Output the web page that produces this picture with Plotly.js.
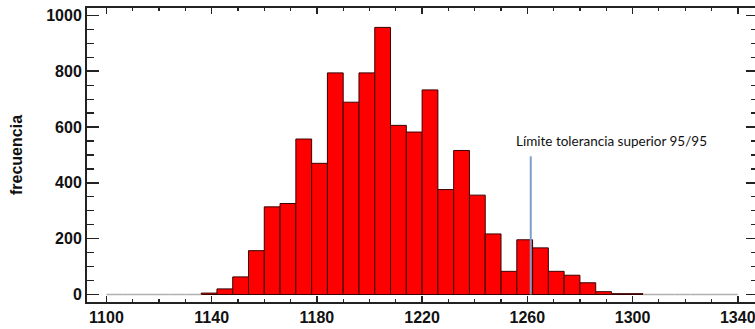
<!DOCTYPE html>
<html>
<head>
<meta charset="utf-8">
<script src="https://cdn.plot.ly/plotly-3.0.1.min.js"></script>
<style>html,body{margin:0;padding:0;background:#fff;overflow:hidden;}#chart{width:758px;height:329px;}</style>
</head>
<body>
<div id="chart"></div>
<script>
// Histogram bins (left edges) and frequencies
var binStarts = [1100,1106,1112,1118,1124,1130,1136,1142,1148,1154,1160,1166,1172,1178,1184,1190,1196,1202,1208,1214,1220,1226,1232,1238,1244,1250,1256,1262,1268,1274,1280,1286,1292,1298,1304,1310,1316,1322,1328,1334];
var counts    = [0,0,0,0,0,0,5,20,63,157,314,326,557,470,794,689,794,957,606,582,733,376,516,356,217,83,196,167,83,69,42,10,3,3,0,0,0,0,0,0];
var binWidth = 6;
var toleranceLimit = 1261.3;
var toleranceLabel = "Límite tolerancia superior 95/95";
var yTickVals = [0,200,400,600,800,1000];
var xTickVals = [1100,1140,1180,1220,1260,1300,1340];

var barX = [], barY = [];
var zeroX = [], zeroY = [];
for (var i = 0; i < binStarts.length; i++) {
  if (counts[i] > 0) {
    barX.push(binStarts[i] + binWidth / 2);
    barY.push(counts[i]);
  } else {
    zeroX.push(binStarts[i], binStarts[i] + binWidth, null);
    zeroY.push(0, 0, null);
  }
}

var traces = [
  {
    type: 'scatter', mode: 'lines', x: zeroX, y: zeroY,
    line: {color: '#b0b0b0', width: 1.5}, hoverinfo: 'skip', showlegend: false, connectgaps: false
  },
  {
    type: 'bar', x: barX, y: barY, width: binWidth,
    marker: {color: '#ff0000', line: {color: '#3a0000', width: 1}},
    showlegend: false
  }
];

var boldFont = {family: '"Liberation Sans", Arial, sans-serif', size: 16, color: '#111', weight: 'bold'};

var layout = {
  width: 758, height: 329,
  margin: {l: 87, r: 0, t: 8, b: 27, pad: 0},
  paper_bgcolor: '#fff', plot_bgcolor: '#fff',
  bargap: 0,
  font: boldFont,
  xaxis: {
    range: [1092.6, 1347.7],
    tickvals: xTickVals,
    ticks: 'inside', ticklen: 6, tickwidth: 1.5, tickcolor: '#222',
    minor: {dtick: 10, tick0: 1100, ticks: 'inside', ticklen: 3, tickwidth: 1.2, tickcolor: '#222'},
    showline: true, linecolor: '#222', linewidth: 2, mirror: 'ticks',
    showgrid: false, zeroline: false,
    tickfont: boldFont
  },
  yaxis: {
    range: [-26.9, 1026.5],
    tickvals: yTickVals,
    ticks: 'inside', ticklen: 12, tickwidth: 1.5, tickcolor: '#222',
    minor: {dtick: 50, tick0: 0, ticks: 'inside', ticklen: 7, tickwidth: 1.2, tickcolor: '#222'},
    showline: true, linecolor: '#222', linewidth: 2, mirror: 'ticks',
    showgrid: false, zeroline: false,
    tickfont: boldFont,
    title: {text: 'frecuencia', standoff: 20, font: boldFont}
  },
  shapes: [
    {type: 'line', xref: 'x', yref: 'y', x0: toleranceLimit, x1: toleranceLimit, y0: 0, y1: 495,
     line: {color: '#7d9ec8', width: 2}}
  ],
  annotations: [
    {xref: 'x', yref: 'y', x: 1254.9, y: 549, xanchor: 'left', yanchor: 'middle',
     text: toleranceLabel, showarrow: false,
     font: {family: 'Lato, "Open Sans", sans-serif', size: 13.5, color: '#111', weight: 'normal'}}
  ]
};

Plotly.newPlot('chart', traces, layout, {displayModeBar: false, staticPlot: true});
</script>
</body>
</html>
